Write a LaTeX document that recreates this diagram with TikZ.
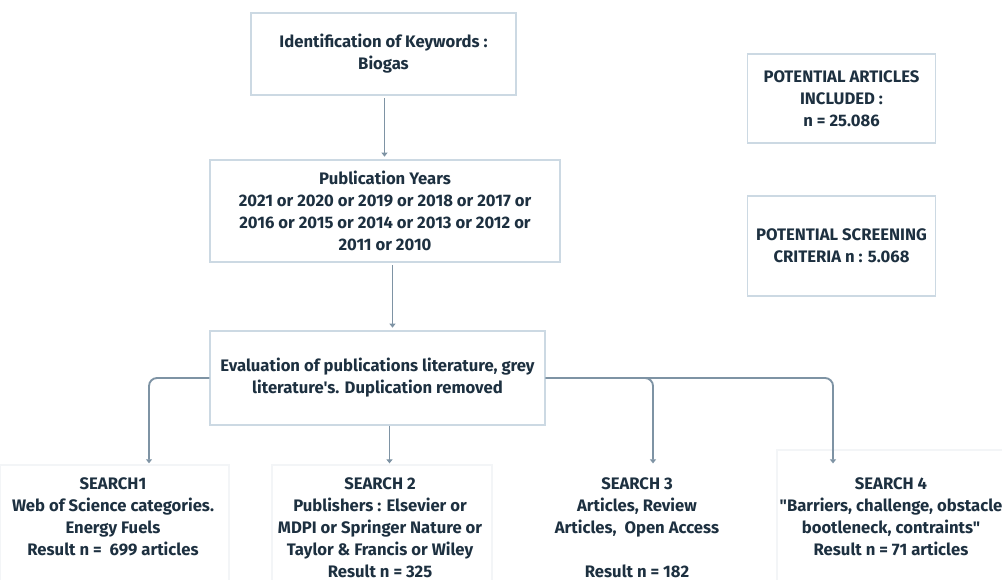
\documentclass[tikz,border=0pt]{standalone}
\usepackage{fontspec}
\setmainfont{Fira Sans}[Ligatures=TeXOff]
\usepackage{tikz}
\usetikzlibrary{arrows.meta}

\definecolor{ink}{HTML}{1D3040}
\definecolor{wire}{HTML}{7E93A4}
\definecolor{rim}{HTML}{CCD9E3}
\definecolor{ghost}{HTML}{F3F5F7}

\newcommand{\flowfont}{\bfseries\fontsize{12.5}{16.5}\selectfont}

\tikzset{
	box/.style={draw=rim, line width=1pt, align=center, text=ink, font=\flowfont},
	result/.style={align=center, text=ink, font=\flowfont},
	flow/.style={draw=wire, line width=1.4pt, -{Triangle[length=3pt,width=4.5pt]}, shorten <=2pt, shorten >=2pt},
	branch/.style={flow, rounded corners=6pt, shorten <=0pt, shorten >=7pt}
}

\begin{document}
\begin{tikzpicture}[x=0.75pt,y=-0.75pt]

	\useasboundingbox (0,0) rectangle (1002,580);

	\draw[ghost, line width=0.8pt] (0,465) rectangle (229,600);
	\draw[ghost, line width=0.8pt] (272,465) rectangle (492,600);
	\draw[ghost, line width=0.8pt] (777,450) rectangle (1010,600);

	\node[box, minimum width=198.75pt, minimum height=61.5pt] (keys) at (383.5,54) {Identification of Keywords :\\Biogas};
	\node[box, minimum width=262.5pt, minimum height=76.5pt] (years) at (385,211) {Publication Years\\2021 or 2020 or 2019 or 2018 or 2017 or\\2016 or 2015 or 2014 or 2013 or 2012 or\\2011 or 2010};
	\node[box, minimum width=251.25pt, minimum height=70.5pt] (eval) at (377.5,378) {Evaluation of publications literature, grey\\literature's. Duplication removed};

	\node[box, minimum width=141pt, minimum height=66.75pt] (found) at (841.5,98.5) {POTENTIAL ARTICLES\\INCLUDED :\\n = 25.086};
	\node[box, minimum width=141pt, minimum height=75pt] (screen) at (841.5,246) {POTENTIAL SCREENING\\CRITERIA n : 5.068};

	\node[result] (s1) at (113,516.5) {SEARCH1\\Web of Science categories.\\Energy Fuels\\Result n =~ 699 articles};
	\node[result] (s2) at (380,527.5) {SEARCH 2\\Publishers : Elsevier or\\MDPI or Springer Nature or\\Taylor \& Francis or Wiley\\Result n = 325};
	\node[result] (s3) at (637,527.5) {SEARCH 3\\Articles, Review\\Articles,~ Open Access\\[16.5pt]Result n = 182};
	\node[result] (s4) at (891,516.5) {SEARCH 4\\"Barriers, challenge, obstacle\\bootleneck, contraints"\\Result n = 71 articles};

	\draw[flow] ([xshift=0.75pt]keys.south) -- ([xshift=0.75pt]keys.south |- years.north);
	\draw[flow] ([xshift=5.6pt]years.south) -- ([xshift=5.6pt]years.south |- eval.north);

	\draw[branch] (eval.west) -| ([xshift=27pt]s1.north);
	\draw[branch] ([xshift=9pt]eval.south) -- ([xshift=9pt]eval.south |- s2.north);
	\draw[branch] (eval.east) -| ([xshift=12pt]s3.north);
	\draw[branch] (eval.east) -| ([xshift=-43.5pt]s4.north);

\end{tikzpicture}
\end{document}
